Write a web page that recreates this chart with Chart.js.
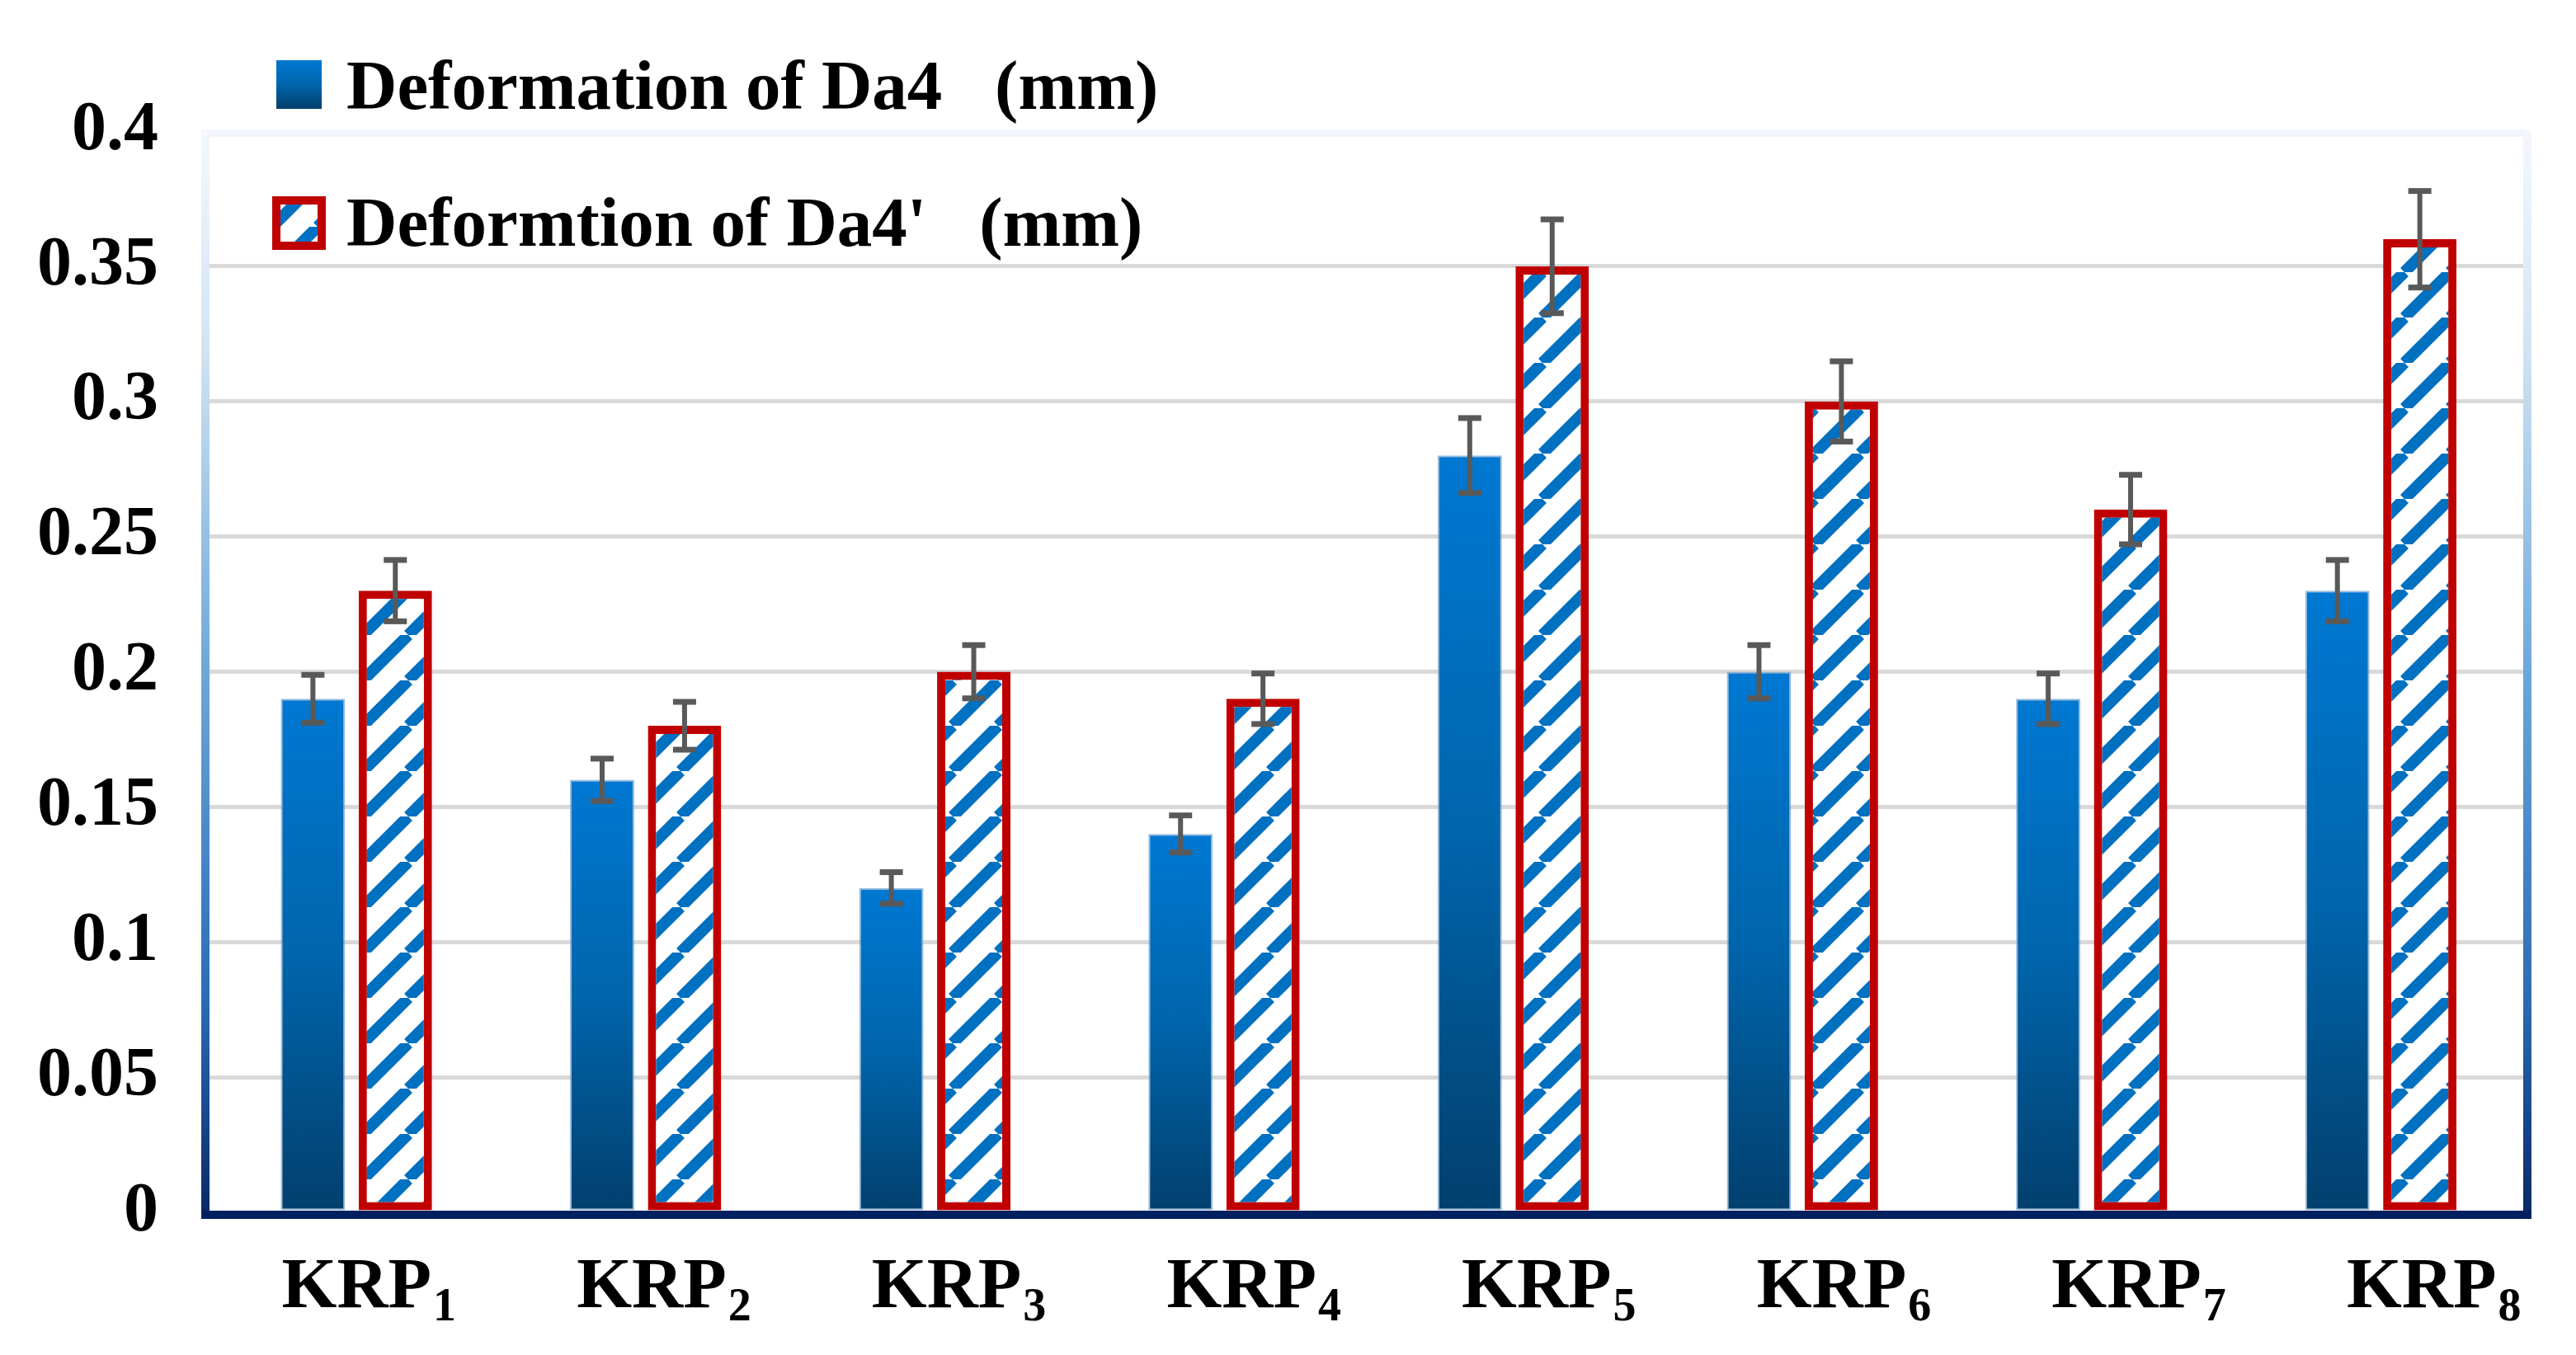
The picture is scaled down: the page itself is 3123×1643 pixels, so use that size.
<!DOCTYPE html>
<html>
<head>
<meta charset="utf-8">
<script src="https://cdn.jsdelivr.net/npm/chart.js@4.4.1/dist/chart.umd.min.js"></script>
<style>
  html, body { margin: 0; padding: 0; background: #ffffff; }
  canvas { display: block; }
</style>
</head>
<body>
<canvas id="chart" width="3123" height="1643"></canvas>
<script>
// Data
const categories = ['KRP1', 'KRP2', 'KRP3', 'KRP4', 'KRP5', 'KRP6', 'KRP7', 'KRP8'];
const seriesNames = ['Deformation of Da4   (mm)', "Deformtion of Da4'   (mm)"];
const deformationDa4 = [0.19, 0.16, 0.12, 0.14, 0.28, 0.20, 0.19, 0.23];
const deformationDa4p = [0.23, 0.18, 0.20, 0.19, 0.35, 0.30, 0.26, 0.36];
const errorDa4 = [0.009, 0.008, 0.006, 0.007, 0.014, 0.010, 0.0095, 0.0115];
const errorDa4p = [0.0115, 0.009, 0.010, 0.0095, 0.0175, 0.015, 0.013, 0.018];
const yTickLabels = ['0', '0.05', '0.1', '0.15', '0.2', '0.25', '0.3', '0.35', '0.4'];

const FONT = "'Liberation Serif', 'Times New Roman', serif";

const canvas = document.getElementById('chart');
const ctx = canvas.getContext('2d');

// diagonal blue stripes on white for the second series
function makeHatch() {
  const s = 55;
  const tile = document.createElement('canvas');
  tile.width = s;
  tile.height = s;
  const t = tile.getContext('2d');
  t.fillStyle = '#ffffff';
  t.fillRect(0, 0, s, s);
  t.strokeStyle = '#0070c0';
  t.lineWidth = 14;
  for (let k = -1; k <= 1; k++) {
    t.beginPath();
    t.moveTo(k * s, s);
    t.lineTo(k * s + s, 0);
    t.stroke();
  }
  return ctx.createPattern(tile, 'repeat');
}
const hatch = makeHatch();

function barGradient(c, top, bottom) {
  const g = c.createLinearGradient(0, top, 0, bottom);
  g.addColorStop(0, '#0078d2');
  g.addColorStop(0.5, '#0065ac');
  g.addColorStop(1, '#023f6d');
  return g;
}

// plot frame: pale top, blue fading sides
const framePlugin = {
  id: 'frame',
  beforeDatasetsDraw(chart) {
    const { ctx: c, chartArea: a } = chart;
    const g = c.createLinearGradient(0, a.top, 0, a.bottom);
    g.addColorStop(0, '#f4f8fd');
    g.addColorStop(0.2, '#d2e4f3');
    g.addColorStop(0.5, '#6ba7d9');
    g.addColorStop(0.8, '#2a6db5');
    g.addColorStop(1, '#0a2a6a');
    c.save();
    c.fillStyle = '#f0f6fc';
    c.fillRect(a.left - 10, a.top - 2, a.right - a.left + 20, 9);
    c.fillStyle = g;
    c.fillRect(a.left - 10, a.top - 2, 10, a.bottom - a.top + 10);
    c.fillRect(a.right, a.top - 2, 10, a.bottom - a.top + 10);
    c.restore();
  },
  afterDatasetsDraw(chart) {
    const { ctx: c, chartArea: a } = chart;
    c.save();
    c.fillStyle = '#002060';
    c.fillRect(a.left - 10, a.bottom - 2, a.right - a.left + 20, 10);
    c.restore();
  }
};

// error bars from the error arrays
const errorBarPlugin = {
  id: 'errorBars',
  afterDatasetsDraw(chart) {
    const c = chart.ctx;
    const y = chart.scales.y;
    c.save();
    c.fillStyle = '#595959';
    chart.data.datasets.forEach((ds, i) => {
      const meta = chart.getDatasetMeta(i);
      meta.data.forEach((bar, j) => {
        const v = ds.data[j];
        const e = ds.errors[j];
        const yt = y.getPixelForValue(v + e);
        const yb = y.getPixelForValue(v - e);
        c.fillRect(bar.x - 3, yt, 6, yb - yt);
        c.fillRect(bar.x - 14, yt - 3, 28, 7);
        c.fillRect(bar.x - 14, yb - 4, 28, 7);
      });
    });
    c.restore();
  }
};

// x labels with subscript numbers
const xLabelPlugin = {
  id: 'xLabels',
  afterDraw(chart) {
    const c = chart.ctx;
    const x = chart.scales.x;
    const base = chart.chartArea.bottom;
    c.save();
    c.fillStyle = '#000000';
    c.textBaseline = 'alphabetic';
    c.textAlign = 'left';
    categories.forEach((cat, i) => {
      const main = cat.slice(0, 3);
      const sub = cat.slice(3);
      c.font = 'bold 86px ' + FONT;
      const wm = c.measureText(main).width;
      c.font = 'bold 56px ' + FONT;
      const ws = c.measureText(sub).width;
      const cx = x.getPixelForValue(i) + 17 + 7 * i;
      const x0 = cx - (wm + ws) / 2;
      c.font = 'bold 86px ' + FONT;
      c.fillText(main, x0, base + 115);
      c.font = 'bold 56px ' + FONT;
      c.fillText(sub, x0 + wm + 2, base + 131);
    });
    c.restore();
  }
};

// legend in the top-left corner, second row over the plot
const legendPlugin = {
  id: 'cornerLegend',
  afterDraw(chart) {
    const c = chart.ctx;
    c.save();
    c.fillStyle = barGradient(c, 73, 132);
    c.fillRect(335, 73, 55, 59);
    c.fillStyle = hatch;
    c.fillRect(330, 238, 65, 65);
    c.strokeStyle = '#c00000';
    c.lineWidth = 10;
    c.strokeRect(335, 243, 55, 55);
    c.fillStyle = '#000000';
    c.font = 'bold 85px ' + FONT;
    c.textBaseline = 'alphabetic';
    c.textAlign = 'left';
    c.fillText(chart.data.datasets[0].label, 420, 132);
    c.fillText(chart.data.datasets[1].label, 420, 298);
    c.restore();
  }
};

new Chart(ctx, {
  type: 'bar',
  data: {
    labels: categories,
    datasets: [
      {
        label: seriesNames[0],
        data: deformationDa4,
        errors: errorDa4,
        backgroundColor: (context) => {
          const chart = context.chart;
          if (!chart.chartArea || !chart.scales.y) return '#0070c0';
          const y = chart.scales.y;
          return barGradient(chart.ctx, y.getPixelForValue(context.raw), y.getPixelForValue(0));
        },
        borderColor: 'rgba(110,160,205,0.7)',
        borderWidth: 2,
        borderSkipped: false,
        barPercentage: 0.78,
        categoryPercentage: 0.57
      },
      {
        label: seriesNames[1],
        data: deformationDa4p,
        errors: errorDa4p,
        backgroundColor: hatch,
        borderColor: '#c00000',
        borderWidth: 10,
        borderSkipped: false,
        barPercentage: 0.89,
        categoryPercentage: 0.57
      }
    ]
  },
  options: {
    responsive: false,
    devicePixelRatio: 1,
    animation: false,
    layout: { padding: { top: 159, right: 64, bottom: 0, left: 0 } },
    plugins: {
      legend: { display: false },
      tooltip: { enabled: false }
    },
    scales: {
      x: {
        grid: { display: false },
        border: { display: false },
        ticks: { display: false },
        afterFit(scale) { scale.height = 173; }
      },
      y: {
        min: 0,
        max: 0.4,
        border: { display: false },
        grid: {
          drawTicks: false,
          lineWidth: 5,
          color: (c) => (c.index === 0 || c.index === yTickLabels.length - 1) ? 'rgba(0,0,0,0)' : '#d9d9d9'
        },
        ticks: {
          stepSize: 0.05,
          padding: 62,
          color: '#000000',
          font: { family: FONT, size: 84, weight: 'bold' },
          callback: (value, index) => yTickLabels[index]
        },
        afterFit(scale) { scale.width = 254; }
      }
    }
  },
  plugins: [framePlugin, errorBarPlugin, xLabelPlugin, legendPlugin]
});
</script>
</body>
</html>
